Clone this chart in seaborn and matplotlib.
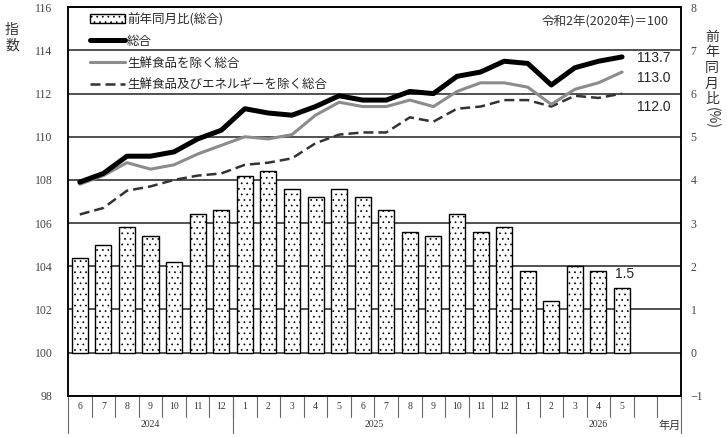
import matplotlib
matplotlib.use('Agg')
import matplotlib.pyplot as plt
import matplotlib.patches as mpatches
import matplotlib.transforms as mtransforms
import numpy as np
import pandas as pd
import seaborn as sns

# Months from 2024/6 to 2026/5
months = [6, 7, 8, 9, 10, 11, 12, 1, 2, 3, 4, 5, 6, 7, 8, 9, 10, 11, 12, 1, 2, 3, 4, 5]
years = ['2024', '2025', '2026']

# Year-on-year change (%), right axis
yoy = [2.2, 2.5, 2.9, 2.7, 2.1, 3.2, 3.3, 4.1, 4.2, 3.8, 3.6, 3.8,
       3.6, 3.3, 2.8, 2.7, 3.2, 2.8, 2.9, 1.9, 1.2, 2.0, 1.9, 1.5]
# Index values, left axis
total = [107.9, 108.3, 109.1, 109.1, 109.3, 109.9, 110.3, 111.3, 111.1, 111.0, 111.4, 111.9,
         111.7, 111.7, 112.1, 112.0, 112.8, 113.0, 113.5, 113.4, 112.4, 113.2, 113.5, 113.7]
core = [107.8, 108.2, 108.8, 108.5, 108.7, 109.2, 109.6, 110.0, 109.9, 110.1, 111.0, 111.6,
        111.4, 111.4, 111.7, 111.4, 112.1, 112.5, 112.5, 112.3, 111.5, 112.2, 112.5, 113.0]
core_core = [106.4, 106.7, 107.5, 107.7, 108.0, 108.2, 108.3, 108.7, 108.8, 109.0, 109.7, 110.1,
             110.2, 110.2, 110.9, 110.7, 111.3, 111.4, 111.7, 111.7, 111.4, 111.9, 111.8, 112.0]

labels = ['前年同月比(総合)', '総合', '生鮮食品を除く総合', '生鮮食品及びエネルギーを除く総合']

df = pd.DataFrame({'pos': np.arange(len(months)), 'yoy': yoy, 'total': total,
                   'core': core, 'core_core': core_core})

sns.set_style('white')
plt.rcParams['font.family'] = ['Liberation Serif', 'Noto Sans CJK JP']
plt.rcParams['hatch.linewidth'] = 0.5
plt.rcParams['hatch.color'] = '#555555'
jp = ['Noto Sans CJK JP', 'DejaVu Sans']

fig = plt.figure(figsize=(7.27, 4.37), dpi=100)
ax = fig.add_axes([0.0935, 0.0945, 0.8432, 0.8888])
ax2 = ax.twinx()

# bars on the right axis
sns.barplot(data=df, x='pos', y='yoy', native_scale=True, width=0.68, ax=ax2,
            color='white', edgecolor='black', linewidth=1.0, hatch='...', saturation=1)
for p in ax2.patches:
    p.set_hatchcolor('#555555') if hasattr(p, 'set_hatchcolor') else None
ax2.set_ylim(-1, 8)
ax2.set_yticks(range(-1, 9))
ax2.yaxis.grid(True, color='#222222', lw=1.1)
ax2.set_axisbelow(True)
ax2.set_ylabel('')

# lines on the left axis
sns.lineplot(data=df, x='pos', y='core_core', ax=ax, color='#333333', lw=1.8)
ax.lines[-1].set_dashes([4, 2])
sns.lineplot(data=df, x='pos', y='core', ax=ax, color='#8c8c8c', lw=2.2)
sns.lineplot(data=df, x='pos', y='total', ax=ax, color='black', lw=3.6,
             solid_capstyle='round', solid_joinstyle='round')
l_cc, l_c, l_t = ax.lines[0], ax.lines[1], ax.lines[2]

ax.set_zorder(ax2.get_zorder() + 1)
ax.patch.set_visible(False)
ax.set_ylim(98, 116)
ax.set_yticks(range(98, 117, 2))
ax.set_xlim(-0.5, 25.5)
ax.set_xticks([])
ax2.set_xticks([])
ax.set_xlabel('')
ax.set_ylabel('')

for a in (ax, ax2):
    for s in a.spines.values():
        s.set_color('black')
        s.set_linewidth(1.1)
ax.tick_params(axis='y', length=0, pad=11, labelsize=8.5, labelcolor='#444444')
ax2.tick_params(axis='y', length=0, pad=7, labelsize=8.5, labelcolor='#444444')

# value labels
n = len(months) - 1
ax.annotate(f'{total[n]:.1f}', (n, total[n]), xytext=(11, -1), textcoords='offset points',
            ha='left', va='center', fontsize=10, family='Liberation Sans')
ax.annotate(f'{core[n]:.1f}', (n, core[n]), xytext=(11, -4), textcoords='offset points',
            ha='left', va='center', fontsize=10, family='Liberation Sans')
ax.annotate(f'{core_core[n]:.1f}', (n, core_core[n]), xytext=(11, -10), textcoords='offset points',
            ha='left', va='center', fontsize=10, family='Liberation Sans')
ax2.annotate(f'{yoy[n]:.1f}', (n, yoy[n]), xytext=(2, 10), textcoords='offset points',
             ha='center', va='center', fontsize=10, family='Liberation Sans')

# legend
bar_handle = mpatches.Patch(facecolor='white', edgecolor='black', hatch='...', lw=1.0)
leg = ax.legend([bar_handle, l_t, l_c, l_cc], labels, loc='upper left',
                bbox_to_anchor=(0.036, 0.986), frameon=False, handlelength=2.8,
                handletextpad=0.15, labelspacing=0.7, borderaxespad=0, borderpad=0,
                prop={'family': jp, 'size': 9})

ax.text(0.979, 0.962, '令和2年(2020年)＝100', transform=ax.transAxes, ha='right', va='center',
        fontsize=9, family=jp, color='#333333')

# month / year table under the plot
trans = mtransforms.blended_transform_factory(ax.transData, ax.transAxes)
r1, r2 = -0.054, -0.096
for b in np.arange(0.5, 25.0, 1.0):
    ax.plot([b, b], [0, r1], transform=trans, color='#666666', lw=0.8, clip_on=False)
for b in [-0.5, 6.5, 18.5, 25.5]:
    ax.plot([b, b], [0, r2], transform=trans, color='#666666', lw=0.8, clip_on=False)
for i, m in enumerate(months):
    ax.text(i, r1 / 2, str(m), transform=trans, ha='center', va='center', fontsize=7, color='#333333')
year_centers = [3, 12.5, 22]
for yc, yl in zip(year_centers, years):
    ax.text(yc, (r1 + r2) / 2, yl, transform=trans, ha='center', va='center', fontsize=7, color='#333333')
ax.text(25, (r1 + r2) / 2 - 0.003, '年月', transform=trans, ha='center', va='center', fontsize=8,
        family=jp, color='#333333')

# axis titles (vertical)
fig.text(12 / 727, 1 - 38 / 437, '指\n数', ha='center', va='center', fontsize=10, family=jp,
         linespacing=1.1, color='#333333')
fig.text(712 / 727, 1 - 68 / 437, '前\n年\n同\n月\n比', ha='center', va='center', fontsize=10,
         family=jp, linespacing=1.15, color='#333333')
fig.text(712 / 727, 1 - 118 / 437, '(%)', ha='center', va='center', fontsize=10, family=jp,
         rotation=270, color='#333333')

fig.savefig('out.png', dpi=100)
